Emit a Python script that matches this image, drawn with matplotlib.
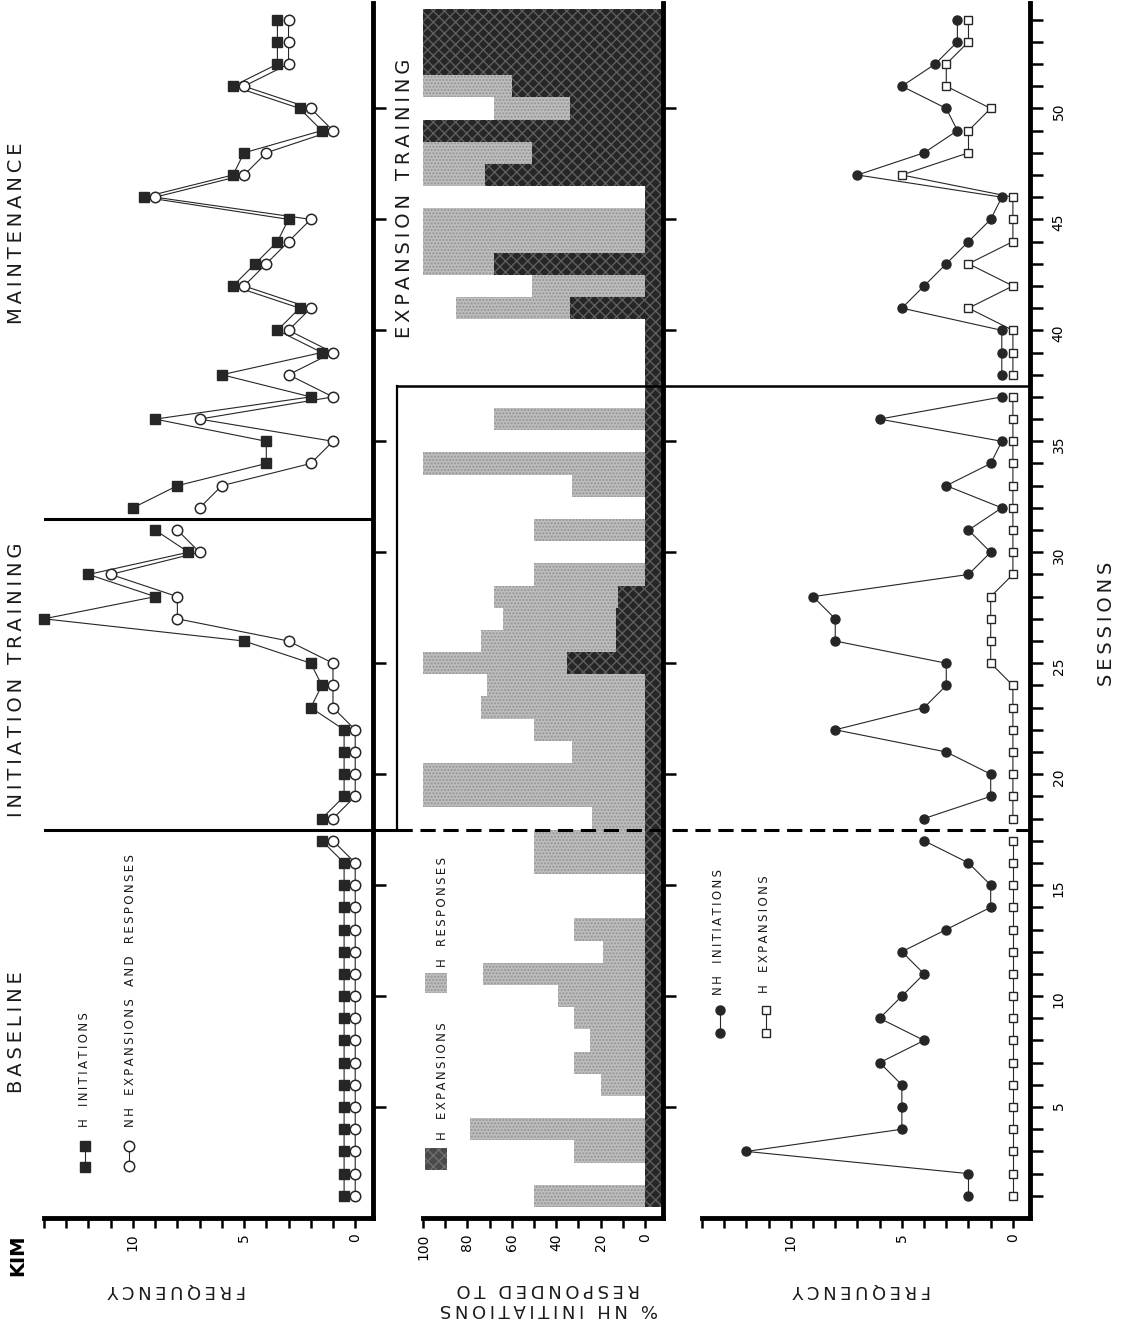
import numpy as np
import matplotlib
matplotlib.use("Agg")
import matplotlib.pyplot as plt
from matplotlib.lines import Line2D
from matplotlib.patches import Rectangle
from matplotlib import transforms

plt.rcParams['font.family'] = ['DejaVu Sans']

# ---- data ----
sessions = np.arange(1, 55)

# left panel: frequency
h_initiations = np.array([0.5] * 16 + [1.5,
                          1.5, 0.5, 0.5, 0.5, 0.5, 2, 1.5, 2, 5, 14, 9, 12, 7.5, 9,
                          10, 8, 4, 4, 9, 2, 6, 1.5, 3.5, 2.5, 5.5, 4.5, 3.5, 3,
                          9.5, 5.5, 5, 1.5, 2.5, 5.5, 3.5, 3.5, 3.5])
nh_exp_resp = np.array([0] * 16 + [1,
                        1, 0, 0, 0, 0, 1, 1, 1, 3, 8, 8, 11, 7, 8,
                        7, 6, 2, 1, 7, 1, 3, 1, 3, 2, 5, 4, 3, 2,
                        9, 5, 4, 1, 2, 5, 3, 3, 3])

# middle panel: % of NH initiations responded to
h_responses_pct = np.array([50, 0, 32, 79, 0, 20, 32, 25, 32, 39, 73, 19, 32, 0, 0, 50, 50,
                            24, 100, 100, 33, 50, 74, 71, 100, 74, 64, 68, 50, 0, 50, 0,
                            33, 100, 0, 68, 0,
                            0, 0, 0, 85, 51, 100, 100, 100, 0, 100, 100, 100, 68, 100,
                            100, 100, 100])
h_expansions_pct = np.array([0] * 24 + [35, 13, 13, 12] + [0] * 12 +
                            [34, 0, 68, 0, 0, 0, 72, 51, 100, 34, 60, 100, 100, 100])

# right panel: frequency
nh_initiations = np.array([2, 2, 12, 5, 5, 5, 6, 4, 6, 5, 4, 5, 3, 1, 1, 2, 4,
                           4, 1, 1, 3, 8, 4, 3, 3, 8, 8, 9, 2, 1, 2, 0.5, 3, 1, 0.5, 6, 0.5,
                           0.5, 0.5, 0.5, 5, 4, 3, 2, 1, 0.5, 7, 4, 2.5, 3, 5, 3.5, 2.5, 2.5])
h_expansions = np.array([0] * 24 + [1, 1, 1, 1] + [0] * 12 +
                        [2, 0, 2, 0, 0, 0, 5, 2, 2, 1, 3, 3, 2, 2])

phases_left = [(1, 17), (18, 31), (32, 54)]
phases_right = [(1, 17), (18, 37), (38, 54)]

W, H = 1128, 1325
DARK = '#262626'
STIP = '#bdbdbd'


def spaced(text, gap='\u2009', wordgap='  '):
    words = text.split(' ')
    return (gap + wordgap + gap).join(gap.join(w) for w in words)


def fx(px):
    return px / W


def fy(py):
    return 1 - py / H


fig = plt.figure(figsize=(W / 100, H / 100), dpi=100)
bottom = fy(1218)
height = 1215 / H
ax_l = fig.add_axes([fx(44), bottom, 329 / W, height])
ax_m = fig.add_axes([fx(423), bottom, 240 / W, height])
ax_r = fig.add_axes([fx(702), bottom, 328 / W, height])

for ax in (ax_l, ax_m, ax_r):
    ax.spines['left'].set_visible(False)
    ax.spines['top'].set_visible(False)
    ax.spines['bottom'].set_linewidth(3.5)
    ax.spines['right'].set_linewidth(3.5)
    ax.set_ylim(0, 54.75)
    ax.yaxis.tick_right()
    ax.tick_params(axis='x', which='both', direction='out', length=7, width=1.8,
                   labelsize=10, labelrotation=90, pad=4)
    ax.tick_params(axis='y', which='both', direction='out', length=9, width=1.8,
                   labelsize=10, labelrotation=90, pad=6)
    ax.set_facecolor('none')

# ---- left panel ----
for a, b in phases_left:
    idx = (sessions >= a) & (sessions <= b)
    ax_l.plot(h_initiations[idx], sessions[idx], '-s', color=DARK, ms=6.5, lw=0.8,
              clip_on=False)
    ax_l.plot(nh_exp_resp[idx], sessions[idx], '-o', color=DARK, mfc='white',
              mec=DARK, mew=1.1, ms=7.5, lw=0.8, clip_on=False)
ax_l.axhline(17.5, color='black', lw=2.2)
ax_l.axhline(31.5, color='black', lw=2.2)
ax_l.set_xlim(14, -0.8)
ax_l.set_xticks([0, 5, 10])
ax_l.set_xticks(np.arange(0, 15), minor=True)
ax_l.set_yticks(np.arange(5, 55, 5))
ax_l.set_yticklabels([])

# ---- middle panel ----
ax_m.set_xlim(100, -8.1)
x0 = ax_m.get_xlim()[1]
ax_m.barh(sessions, h_responses_pct, height=1, left=0, color=STIP,
          edgecolor='#949494', hatch='.....', linewidth=0)
ax_m.barh(sessions, h_expansions_pct - x0, height=1, left=x0, color=DARK,
          edgecolor='#5e5e5e', hatch='xxx', linewidth=0)
ax_m.set_xticks(np.arange(0, 101, 20))
ax_m.set_xticks(np.arange(0, 101, 10), minor=True)
ax_m.set_yticks(np.arange(5, 55, 5))
ax_m.set_yticklabels([])

# ---- right panel ----
for a, b in phases_right:
    idx = (sessions >= a) & (sessions <= b)
    ax_r.plot(nh_initiations[idx], sessions[idx], '-o', color=DARK, ms=6.5, lw=0.8,
              clip_on=False)
    ax_r.plot(h_expansions[idx], sessions[idx], '-s', color=DARK, mfc='white',
              mec=DARK, mew=1.0, ms=6, lw=0.8, clip_on=False)
ax_r.set_xlim(14, -0.77)
ax_r.set_xticks([0, 5, 10])
ax_r.set_xticks(np.arange(0, 15), minor=True)
ax_r.set_yticks(np.arange(5, 55, 5))
ax_r.set_yticks(np.arange(1, 55), minor=True)
ax_r.tick_params(axis='y', which='both', length=9.5)

# ---- phase lines spanning middle and right panels ----
blend = transforms.blended_transform_factory(fig.transFigure, ax_r.transData)
fig.add_artist(Line2D([fx(397), fx(1030)], [37.5, 37.5], transform=blend,
                      color='black', lw=1.8))
fig.add_artist(Line2D([fx(397), fx(397)], [17.5, 37.5], transform=blend,
                      color='black', lw=1.6))
fig.add_artist(Line2D([fx(373), fx(397)], [17.5, 17.5], transform=blend,
                      color='black', lw=2.2))
fig.add_artist(Line2D([fx(397), fx(1030)], [17.5, 17.5], transform=blend,
                      color='black', lw=2.2, ls=(0, (5, 2.5))))

# ---- titles ----
title_kw = dict(rotation=90, ha='center', va='center', fontsize=14, color='#1a1a1a')
fig.text(fx(17), fy(1032), spaced('BASELINE', wordgap=' '), **title_kw)
fig.text(fx(17), fy(680), spaced('INITIATION TRAINING', wordgap=' '), **title_kw)
fig.text(fx(17), fy(233), spaced('MAINTENANCE', wordgap=' '), **title_kw)
fig.text(fx(405), fy(198), spaced('EXPANSION TRAINING', wordgap=' '), **title_kw)
fig.text(fx(1107), fy(624), spaced('SESSIONS', wordgap=' '), **title_kw)

fig.text(fx(18), fy(1255), 'KIM', rotation=90, ha='center', va='center',
         fontsize=14, fontweight='bold')

lab_kw = dict(rotation=180, ha='center', va='center', fontsize=13, color='#1a1a1a')
fig.text(fx(177), fy(1290), spaced('FREQUENCY'), **lab_kw)
fig.text(fx(862), fy(1290), spaced('FREQUENCY'), **lab_kw)
fig.text(fx(548), fy(1289), spaced('RESPONDED TO', wordgap=' '), **lab_kw)
fig.text(fx(549), fy(1309), spaced('% NH INITIATIONS', wordgap=' '), **lab_kw)

# ---- legends ----
leg_kw = dict(rotation=90, ha='center', va='bottom', fontsize=8.5, color='#1a1a1a')
fig.add_artist(Line2D([fx(85), fx(85)], [fy(1146), fy(1167)], transform=fig.transFigure,
                      marker='s', color=DARK, ms=6.5, lw=0.8))
fig.text(fx(85), fy(1127), spaced('H INITIATIONS'), **leg_kw)
fig.add_artist(Line2D([fx(129), fx(129)], [fy(1146), fy(1166)], transform=fig.transFigure,
                      marker='o', color=DARK, mfc='white', mec=DARK, mew=1.1, ms=7.5, lw=0.8))
fig.text(fx(130), fy(1127), spaced('NH EXPANSIONS AND RESPONSES'), **leg_kw)

fig.add_artist(Rectangle((fx(425), fy(1170)), 22 / W, 22 / H, transform=fig.transFigure,
                         facecolor='#4a4a4a', edgecolor='#6e6e6e', hatch='xxx', lw=0))
fig.text(fx(442), fy(1140), spaced('H EXPANSIONS'), **leg_kw)
fig.add_artist(Rectangle((fx(425), fy(993)), 22 / W, 20 / H, transform=fig.transFigure,
                         facecolor=STIP, edgecolor='#949494', hatch='.....', lw=0))
fig.text(fx(442), fy(967), spaced('H RESPONSES'), **leg_kw)

fig.add_artist(Line2D([fx(720), fx(720)], [fy(1010), fy(1033)], transform=fig.transFigure,
                      marker='o', color=DARK, ms=6.5, lw=0.8))
fig.text(fx(719), fy(995), spaced('NH INITIATIONS'), **leg_kw)
fig.add_artist(Line2D([fx(766), fx(766)], [fy(1010), fy(1033)], transform=fig.transFigure,
                      marker='s', color=DARK, mfc='white', mec=DARK, mew=1.0, ms=6, lw=0.8))
fig.text(fx(765), fy(993), spaced('H EXPANSIONS'), **leg_kw)

fig.savefig('out.png', dpi=100)
